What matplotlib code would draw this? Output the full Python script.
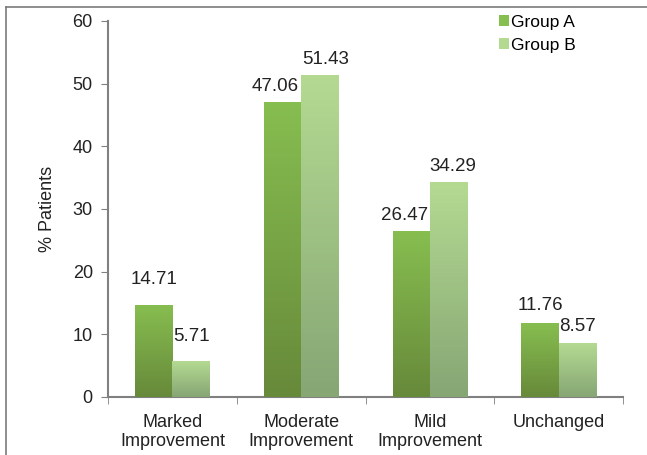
import numpy as np
import matplotlib
matplotlib.use("Agg")
import matplotlib.pyplot as plt
from matplotlib.colors import LinearSegmentedColormap
from matplotlib.lines import Line2D
from matplotlib.patches import Patch

plt.rcParams["font.family"] = ["Liberation Sans", "DejaVu Sans"]

# ---------- data ----------
categories = ["Marked\nImprovement", "Moderate\nImprovement", "Mild\nImprovement", "Unchanged"]
group_a = [14.71, 47.06, 26.47, 11.76]
group_b = [5.71, 51.43, 34.29, 8.57]
series_names = ["Group A", "Group B"]
y_ticks = [0, 10, 20, 30, 40, 50, 60]

# label nudges (points) as placed in the original chart
nudge_a = [(0, 12), (-5, 5), (-5, 5), (0, 7)]
nudge_b = [(0, 12), (4, 5), (3, 5), (0, 6)]

# colours (top, bottom) of the gradient per series
grad_a = ("#87BE50", "#67893A")
grad_b = ("#B4DA92", "#86A674")

fig = plt.figure(figsize=(6.47, 4.55), dpi=100)
ax = fig.add_axes([0.167, 0.1275, 0.796, 0.8265])

x = np.arange(len(categories))
w = 0.29

bars_a = ax.bar(x - w / 2, group_a, w, color=grad_a[0], linewidth=0, zorder=2)
bars_b = ax.bar(x + w / 2, group_b, w, color=grad_b[0], linewidth=0, zorder=2)


def shade(bars, cols):
    cmap = LinearSegmentedColormap.from_list("g", [cols[1], cols[0]])
    grad = np.linspace(0, 1, 256).reshape(-1, 1)
    for b in bars:
        x0, y0 = b.get_x(), b.get_y()
        x1, y1 = x0 + b.get_width(), y0 + b.get_height()
        im = ax.imshow(grad, cmap=cmap, aspect="auto", origin="lower",
                       extent=[x0, x1, y0, y1], zorder=3)
        im.set_clip_path(b)


shade(bars_a, grad_a)
shade(bars_b, grad_b)

for bars, vals, nud in ((bars_a, group_a, nudge_a), (bars_b, group_b, nudge_b)):
    for b, v, (dx, dy) in zip(bars, vals, nud):
        ax.annotate(f"{v:.2f}", (b.get_x() + b.get_width() / 2, v),
                    xytext=(dx, dy), textcoords="offset points",
                    ha="center", va="bottom", fontsize=13.5, color="#222222")

ax.set_xlim(-0.5, len(categories) - 0.5)
ax.set_ylim(0, 60)
ax.set_yticks(y_ticks)
ax.set_xticks(x)
ax.set_xticklabels(categories, fontsize=13, color="#222222", linespacing=1.15)
ax.set_xticks(np.arange(len(categories) + 1) - 0.5, minor=True)
ax.tick_params(axis="x", which="major", length=0, pad=12)
ax.tick_params(axis="x", which="minor", length=5, color="#808080", direction="out")
ax.tick_params(axis="y", length=5, color="#808080", direction="out", labelsize=13,
               labelcolor="#222222", pad=6)
ax.set_ylabel("% Patients", fontsize=13, color="#222222", labelpad=12)

for s in ("top", "right"):
    ax.spines[s].set_visible(False)
for s in ("left", "bottom"):
    ax.spines[s].set_color("#808080")
    ax.spines[s].set_linewidth(1.5)

handles = [Patch(facecolor=grad_a[0], edgecolor="none"),
           Patch(facecolor=grad_b[0], edgecolor="none")]
ax.legend(handles, series_names, loc="upper right", frameon=False, fontsize=12.5,
          handlelength=0.6, handleheight=0.6, handletextpad=0.1, labelspacing=0.45,
          bbox_to_anchor=(0.922, 1.035), borderaxespad=0)

# figure border lines (left and top)
fig.add_artist(Line2D([0.0095, 0.0095], [0, 0.985], color="#7a7a7a", lw=1.2,
                      transform=fig.transFigure))
fig.add_artist(Line2D([0.0095, 1.0], [0.985, 0.985], color="#7a7a7a", lw=1.2,
                      transform=fig.transFigure))

fig.savefig("out.png", dpi=100)
